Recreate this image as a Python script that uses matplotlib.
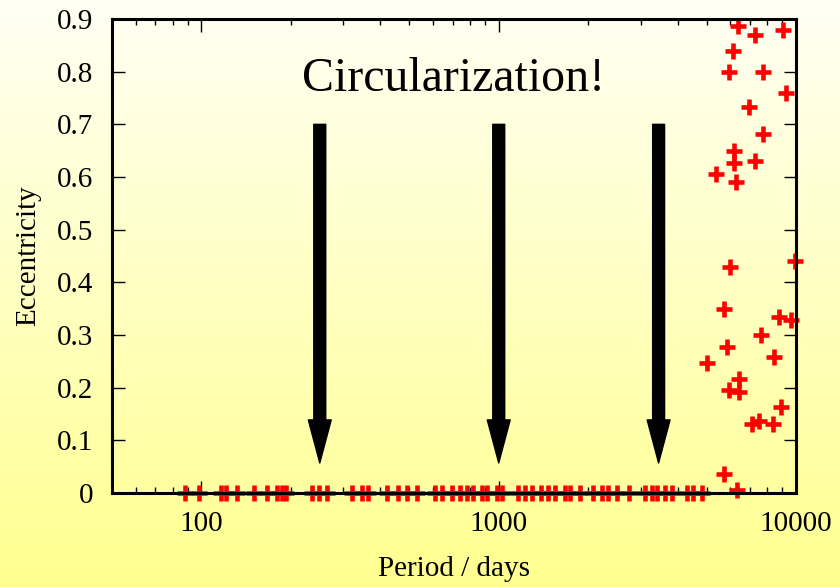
import numpy as np
import matplotlib
matplotlib.use("Agg")
import matplotlib.pyplot as plt
from matplotlib.ticker import FixedLocator, NullFormatter, LogLocator

# ---- data ----
circ_periods = [88, 98, 116, 121, 132, 150, 166, 180, 186, 193, 235, 248, 264,
                322, 346, 362, 420, 457, 490, 530, 609, 643, 695, 739, 780, 818,
                877, 911, 985, 1024, 1159, 1223, 1292, 1385, 1462, 1544, 1668,
                1734, 1874, 2072, 2223, 2328, 2497, 2740, 3101, 3274, 3404, 3623,
                3825, 4295, 4499, 4824]
circ_ecc = [0.0] * len(circ_periods)

ecc_periods = [6365, 7278, 9063, 6120, 5963, 7725, 9230, 6964, 7725, 6185, 6185,
               7278, 5378, 6281, 9922, 5995, 5723, 8786, 9598, 7606, 5870, 8433,
               5004, 6443, 5950, 6443, 8881, 7093, 7522, 8348, 5723, 6346]
ecc_values = [0.887, 0.870, 0.880, 0.840, 0.800, 0.800, 0.760, 0.732, 0.682, 0.650,
              0.626, 0.631, 0.606, 0.591, 0.441, 0.429, 0.349, 0.335, 0.328, 0.300,
              0.277, 0.258, 0.247, 0.216, 0.196, 0.192, 0.163, 0.131, 0.137, 0.131,
              0.036, 0.006]

arrow_periods = [250, 1000, 3450]
arrow_top = 0.70
arrow_tip = 0.057

yticks = [0, 0.1, 0.2, 0.3, 0.4, 0.5, 0.6, 0.7, 0.8, 0.9]
yticklabels = ["0", "0.1", "0.2", "0.3", "0.4", "0.5", "0.6", "0.7", "0.8", "0.9"]
xticks = [100, 1000, 10000]
xticklabels = ["100", "1000", "10000"]

plt.rcParams['font.family'] = ['Liberation Serif', 'DejaVu Serif']

fig = plt.figure(figsize=(8.4, 5.87), dpi=100)

# background gradient
bg = fig.add_axes([0, 0, 1, 1], zorder=-10)
grad = np.linspace(0, 1, 256).reshape(-1, 1)
top = np.array([1.0, 1.0, 0.96])
bot = np.array([1.0, 1.0, 0.56])
img = top[None, None, :] * (1 - grad[:, :, None]) + bot[None, None, :] * grad[:, :, None]
bg.imshow(img, aspect='auto', extent=[0, 1, 0, 1])
bg.set_axis_off()

ax = fig.add_axes([112/840, 1 - 493/587, (796-112)/840, (493-19)/587])
ax.patch.set_alpha(0)
ax.set_xscale('log')
ax.set_xlim(50, 10000)
ax.set_ylim(0, 0.9)

ax.plot(circ_periods, circ_ecc, linestyle='none', marker='+', color='#ff0000',
        markersize=11, markeredgewidth=3.3, clip_on=False, zorder=2)
ax.plot(ecc_periods, ecc_values, linestyle='none', marker='+', color='#ff0000',
        markersize=11, markeredgewidth=3.3, clip_on=False, zorder=2)

for p in arrow_periods:
    ax.annotate('', xy=(p, arrow_tip), xytext=(p, arrow_top),
                arrowprops=dict(width=8.6, headwidth=16.5, headlength=31,
                                facecolor='black', edgecolor='black', shrink=0))

ax.text(0.5, 0.873, "Circularization!", transform=ax.transAxes, ha='center',
        va='center', fontsize=34.5)

ax.set_yticks(yticks)
ax.set_yticklabels(yticklabels)
ax.xaxis.set_major_locator(FixedLocator(xticks))
ax.set_xticklabels(xticklabels)
ax.xaxis.set_minor_locator(LogLocator(base=10, subs=np.arange(2, 10)))
ax.xaxis.set_minor_formatter(NullFormatter())

ax.tick_params(axis='both', which='major', direction='in', length=9, width=1,
               labelsize=21, top=True, right=True)
ax.tick_params(axis='x', which='minor', direction='in', length=4.5, width=1,
               top=True, bottom=True)
ax.tick_params(axis='x', which='major', pad=13)
ax.tick_params(axis='y', which='major', pad=13.5)

for s in ax.spines.values():
    s.set_linewidth(2.2)
    s.set_zorder(3)

ax.set_xlabel("Period / days", fontsize=21, labelpad=14)
ax.set_ylabel("Eccentricity", fontsize=21, labelpad=11)

fig.savefig("out.png", dpi=100)
